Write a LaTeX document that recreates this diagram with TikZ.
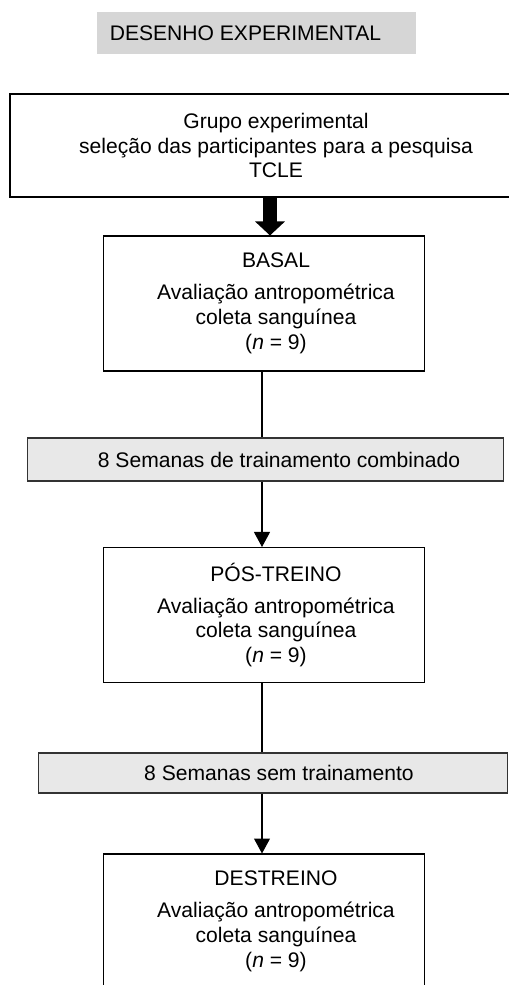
\documentclass[tikz,border=0pt]{standalone}
\usepackage{fontspec}
\setmainfont{Liberation Sans}
\usetikzlibrary{arrows.meta}
\definecolor{cinzaTitulo}{HTML}{D6D6D6}
\definecolor{cinzaFaixa}{HTML}{E8E8E8}
\tikzset{
  etapa/.style = {draw, line width=0.6pt, minimum width=6.44cm, minimum height=2.7cm, inner sep=0pt},
  faixa/.style = {draw=black!80, fill=cinzaFaixa, line width=0.6pt, inner sep=0pt},
  texto/.style = {align=center, font=\fontsize{12}{14.2}\selectfont, inner sep=0pt},
  seta/.style = {-{Triangle[length=0.3cm,width=0.32cm]}, line width=0.6pt},
  setagrossa/.style = {-{Triangle[length=0.28cm,width=0.58cm]}, line width=0.28cm}
}

\begin{document}
\begin{tikzpicture}[x=0.02cm,y=-0.02cm]
    \useasboundingbox (0,0) rectangle (509,985);
    % Title band
    \node[fill=cinzaTitulo, minimum width=6.38cm, minimum height=0.84cm, inner sep=0pt] (titulo) at (256.5,33) {};
    \node[texto] (titulotxt) at ([xshift=-0.22cm]titulo.center) {DESENHO EXPERIMENTAL};
    % Group box (cut at the right edge)
    \node[etapa, line width=1.4pt, minimum width=10.2cm, minimum height=2.06cm] (grupo) at (265,145.5) {};
    \node[texto] (grupotxt) at ([xshift=0.22cm]grupo.center) {Grupo experimental\\seleção das participantes para a pesquisa\\TCLE};
    % The three evaluation boxes
    \foreach \nome/\yy/\fase in {basal/303.5/BASAL, pos/615/PÓS-TREINO, destreino/921.5/DESTREINO}{
    \node[etapa] (\nome) at (264,\yy) {};
    \node[texto] (\nome txt) at ([xshift=0.24cm]\nome.center) {\fase\\[4pt]Avaliação antropométrica\\coleta sanguínea\\(\textit{n} = 9)};
    }
    % Training bands
    \node[faixa, minimum width=9.54cm, minimum height=0.86cm] (semana1) at (265.5,459.5) {};
    \node[texto] (semana1txt) at ([xshift=0.27cm]semana1.center) {8 Semanas de trainamento combinado};
    \node[faixa, minimum width=9.4cm, minimum height=0.8cm] (semana2) at (273,773) {};
    \node[texto] (semana2txt) at ([xshift=0.12cm]semana2.center) {8 Semanas sem trainamento};
    % Connectors
    \coordinate (eixo) at (262,0);
    \coordinate (eixogrosso) at (270,0);
    \draw[setagrossa] (eixogrosso |- grupo.south) -- (eixogrosso |- basal.north);
    \draw[line width=0.6pt] (eixo |- basal.south) -- (eixo |- semana1.north);
    \draw[seta] (eixo |- semana1.south) -- (eixo |- pos.north);
    \draw[line width=0.6pt] (eixo |- pos.south) -- (eixo |- semana2.north);
    \draw[seta] (eixo |- semana2.south) -- (eixo |- destreino.north);
\end{tikzpicture}
\end{document}
